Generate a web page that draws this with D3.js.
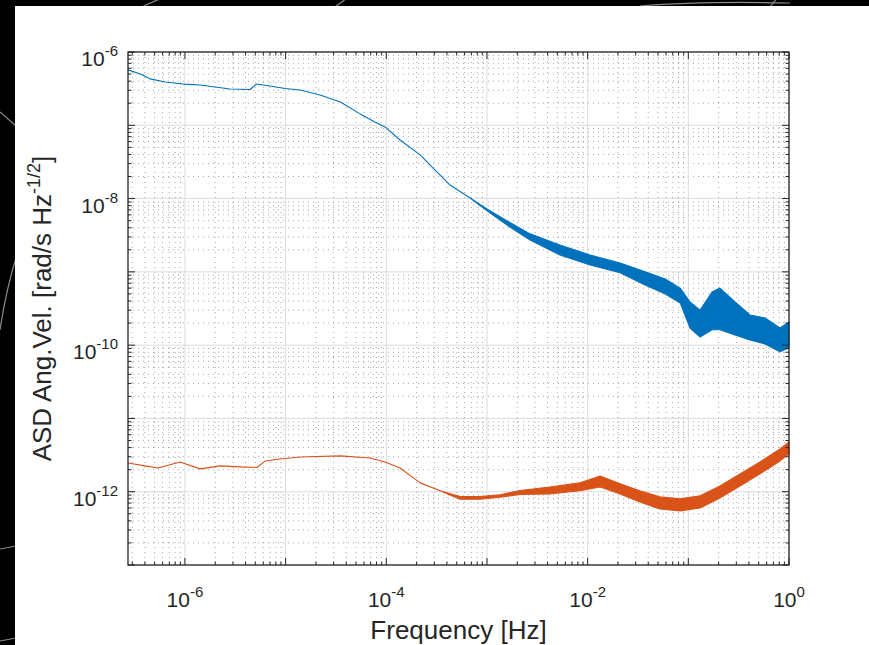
<!DOCTYPE html>
<html>
<head>
<meta charset="utf-8">
<script src="https://cdn.jsdelivr.net/npm/d3@7"></script>
<style>
body { margin: 0; background: #000; }
svg { display: block; }
text { font-family: "Liberation Sans", Arial, sans-serif; fill: #262626; }
</style>
</head>
<body>
<div id="chart"></div>
<script>
/**
 * Data. Where the trace is a thick noisy band the
 * upper and lower edges of the band are kept, otherwise hi == lo.
 */
var freqBlue = [2.73e-7, 3.6e-7, 4.5e-7, 6.4e-7, 9.6e-7, 1.42e-6, 2.0e-6, 2.8e-6, 4.45e-6, 5.1e-6,
	7.0e-6, 9.9e-6, 1.39e-5, 2.2e-5, 3.5e-5, 5.5e-5, 7.7e-5, 9.7e-5, 1.37e-4, 2.17e-4,
	2.92e-4, 4.3e-4, 6.8e-4, 1.07e-3, 1.69e-3, 2.68e-3, 5.3e-3, 1.06e-2, 2.1e-2, 3.72e-2,
	5.9e-2, 8.3e-2, 0.104, 0.131, 0.172, 0.206, 0.291, 0.41, 0.578, 0.814, 1];
var blueHi = [5.7e-7, 5.0e-7, 4.3e-7, 3.9e-7, 3.65e-7, 3.55e-7, 3.33e-7, 3.13e-7, 3.08e-7, 3.65e-7,
	3.43e-7, 3.18e-7, 3.03e-7, 2.59e-7, 2.08e-7, 1.43e-7, 1.11e-7, 9.5e-8, 6.3e-8, 3.94e-8,
	2.61e-8, 1.53e-8, 1.02e-8, 6.8e-9, 4.7e-9, 3.3e-9, 2.33e-9, 1.7e-9, 1.32e-9, 1.0e-9,
	8.0e-10, 6.0e-10, 3.88e-10, 3.0e-10, 5.3e-10, 6.0e-10, 3.88e-10, 2.58e-10, 2.35e-10, 1.72e-10, 2.07e-10];
var blueLo = [5.7e-7, 5.0e-7, 4.3e-7, 3.9e-7, 3.65e-7, 3.55e-7, 3.33e-7, 3.13e-7, 3.08e-7, 3.65e-7,
	3.43e-7, 3.18e-7, 3.03e-7, 2.59e-7, 2.08e-7, 1.43e-7, 1.11e-7, 9.5e-8, 6.3e-8, 3.94e-8,
	2.61e-8, 1.53e-8, 1.02e-8, 6.4e-9, 4.1e-9, 2.72e-9, 1.7e-9, 1.24e-9, 9.7e-10, 6.6e-10,
	5.0e-10, 3.77e-10, 1.71e-10, 1.29e-10, 1.62e-10, 1.62e-10, 1.38e-10, 1.18e-10, 1.04e-10, 8.1e-11, 9.2e-11];

var freqOrange = [2.73e-7, 4.0e-7, 5.4e-7, 8.95e-7, 1.42e-6, 2.24e-6, 3.53e-6, 5.2e-6, 6.3e-6, 8.8e-6,
	1.39e-5, 3.5e-5, 6.9e-5, 9.7e-5, 1.37e-4, 2.17e-4, 3.42e-4, 5.4e-4, 8.5e-4, 1.35e-3,
	2.13e-3, 4.2e-3, 8.4e-3, 1.33e-2, 2.1e-2, 3.3e-2, 5.2e-2, 8.3e-2, 0.131, 0.206,
	0.326, 0.515, 0.814, 1];
var orangeHi = [2.47e-12, 2.25e-12, 2.11e-12, 2.55e-12, 2.05e-12, 2.25e-12, 2.18e-12, 2.14e-12, 2.63e-12, 2.8e-12,
	2.98e-12, 3.08e-12, 2.89e-12, 2.55e-12, 2.11e-12, 1.32e-12, 1.03e-12, 8.6e-13, 8.6e-13, 9.1e-13,
	1.04e-12, 1.16e-12, 1.32e-12, 1.64e-12, 1.28e-12, 1.03e-12, 8.5e-13, 7.98e-13, 8.8e-13, 1.2e-12,
	1.75e-12, 2.55e-12, 3.84e-12, 4.78e-12];
var orangeLo = [2.47e-12, 2.25e-12, 2.11e-12, 2.55e-12, 2.05e-12, 2.25e-12, 2.18e-12, 2.14e-12, 2.63e-12, 2.8e-12,
	2.98e-12, 3.08e-12, 2.89e-12, 2.55e-12, 2.11e-12, 1.32e-12, 1.03e-12, 7.9e-13, 7.9e-13, 8.4e-13,
	9.2e-13, 9.3e-13, 1.03e-12, 1.16e-12, 9.3e-13, 7.26e-13, 5.82e-13, 5.47e-13, 6.01e-13, 8.2e-13,
	1.2e-12, 1.75e-12, 2.63e-12, 3.28e-12];

var xTickExp = [-6, -4, -2, 0];
var yTickExp = [-12, -10, -8, -6];

var seriesColors = ["#0072BD", "#D95319"];

var margin = {top: 52, right: 80, bottom: 80, left: 128};
var _width = 661, _height = 513;
var _xRange, _yRange;

function isDecade(d) {
	var l = Math.log10(d);
	return Math.abs(l - Math.round(l)) < 1e-6;
}

/**
 * Zips frequency / hi / lo arrays into rows for the area generator.
 */
function rows(freq, hi, lo) {
	return freq.map(function(f, i) { return {f: f, hi: hi[i], lo: lo[i]}; });
}

/**
 * Writes "10" with a raised exponent into a text element.
 */
function powerLabel(sel, exp) {
	sel.append("tspan").text("10");
	sel.append("tspan").attr("dy", -10).attr("font-size", 15).text(exp);
}

var svg = d3.select("#chart").append("svg")
	.attr("width", 869)
	.attr("height", 645);

// decorative lines in the dark slide background
var deco = ["M140,8 Q150,3 162,-2", "M335,7 L347,-2", "M640,6 Q700,1 790,3", "M770,7 L777,-2",
	"M0,112 L16,126", "M16,258 Q6,290 0,330", "M0,549 L16,546", "M0,641 L16,638"];
svg.selectAll("path.deco").data(deco).enter().append("path")
	.attr("class", "deco")
	.attr("d", function(d) { return d; })
	.attr("fill", "none")
	.attr("stroke", "#8a8a8a")
	.attr("stroke-width", 1.2);

svg.append("rect")
	.attr("x", 15).attr("y", 6)
	.attr("width", 854).attr("height", 639)
	.attr("fill", "#fff");

var g = svg.append("g")
	.attr("transform", "translate(" + margin.left + "," + margin.top + ")");

_xRange = d3.scaleLog().domain([2.72e-7, 1]).range([0, _width]);
_yRange = d3.scaleLog().domain([1e-13, 1e-6]).range([_height, 0]);

var xAll = _xRange.ticks(100).filter(function(d) { return d >= 2.72e-7 && d <= 1; });
var yAll = _yRange.ticks(100);

// minor grid, dotted
g.selectAll("line.xminor").data(xAll.filter(function(d) { return !isDecade(d); })).enter()
	.append("line")
	.attr("x1", _xRange).attr("x2", _xRange)
	.attr("y1", 0).attr("y2", _height)
	.attr("stroke", "#a8a8a8").attr("stroke-width", 1)
	.attr("stroke-dasharray", "1,4");
g.selectAll("line.yminor").data(yAll.filter(function(d) { return !isDecade(d); })).enter()
	.append("line")
	.attr("y1", _yRange).attr("y2", _yRange)
	.attr("x1", 0).attr("x2", _width)
	.attr("stroke", "#a8a8a8").attr("stroke-width", 1)
	.attr("stroke-dasharray", "1,4");

// major grid, solid
g.selectAll("line.xmajor").data(xAll.filter(isDecade)).enter()
	.append("line")
	.attr("x1", _xRange).attr("x2", _xRange)
	.attr("y1", 0).attr("y2", _height)
	.attr("stroke", "#dcdcdc").attr("stroke-width", 1);
g.selectAll("line.ymajor").data(yAll.filter(isDecade)).enter()
	.append("line")
	.attr("y1", _yRange).attr("y2", _yRange)
	.attr("x1", 0).attr("x2", _width)
	.attr("stroke", "#dcdcdc").attr("stroke-width", 1);

// the two traces
var band = d3.area()
	.x(function(d) { return _xRange(d.f); })
	.y0(function(d) { return _yRange(d.lo); })
	.y1(function(d) { return _yRange(d.hi); });

[rows(freqBlue, blueHi, blueLo), rows(freqOrange, orangeHi, orangeLo)].forEach(function(data, i) {
	g.append("path")
		.datum(data)
		.attr("d", band)
		.attr("fill", seriesColors[i])
		.attr("stroke", seriesColors[i])
		.attr("stroke-width", 1.1)
		.attr("stroke-linejoin", "round");
});

// box and inward ticks on all four sides
var tickCol = "#262626";
xAll.forEach(function(d) {
	var len = isDecade(d) ? 7 : 3.5, x = _xRange(d);
	g.append("line").attr("x1", x).attr("x2", x).attr("y1", _height).attr("y2", _height - len).attr("stroke", tickCol);
	g.append("line").attr("x1", x).attr("x2", x).attr("y1", 0).attr("y2", len).attr("stroke", tickCol);
});
yAll.forEach(function(d) {
	var len = isDecade(d) ? 7 : 3.5, y = _yRange(d);
	g.append("line").attr("y1", y).attr("y2", y).attr("x1", 0).attr("x2", len).attr("stroke", tickCol);
	g.append("line").attr("y1", y).attr("y2", y).attr("x1", _width).attr("x2", _width - len).attr("stroke", tickCol);
});
g.append("rect")
	.attr("width", _width).attr("height", _height)
	.attr("fill", "none")
	.attr("stroke", tickCol).attr("stroke-width", 1.3);

// tick labels
g.selectAll("text.xt").data(xTickExp).enter().append("text")
	.attr("x", function(e) { return _xRange(Math.pow(10, e)); })
	.attr("y", _height + 42)
	.attr("text-anchor", "middle")
	.attr("font-size", 21)
	.each(function(e) { powerLabel(d3.select(this), e); });

g.selectAll("text.yt").data(yTickExp).enter().append("text")
	.attr("x", -10)
	.attr("y", function(e) { return _yRange(Math.pow(10, e)) + 14; })
	.attr("text-anchor", "end")
	.attr("font-size", 21)
	.each(function(e) { powerLabel(d3.select(this), e); });

// axis titles
svg.append("text")
	.attr("x", margin.left + _width / 2)
	.attr("y", 639)
	.attr("text-anchor", "middle")
	.attr("font-size", 26)
	.text("Frequency [Hz]");

var yt = svg.append("text")
	.attr("transform", "translate(51," + (margin.top + _height / 2) + ") rotate(-90)")
	.attr("text-anchor", "middle")
	.attr("font-size", 26);
yt.append("tspan").text("ASD Ang.Vel. [rad/s Hz");
yt.append("tspan").attr("dy", -11).attr("font-size", 18).text("-1/2");
yt.append("tspan").attr("dy", 11).text("]");
</script>
</body>
</html>
